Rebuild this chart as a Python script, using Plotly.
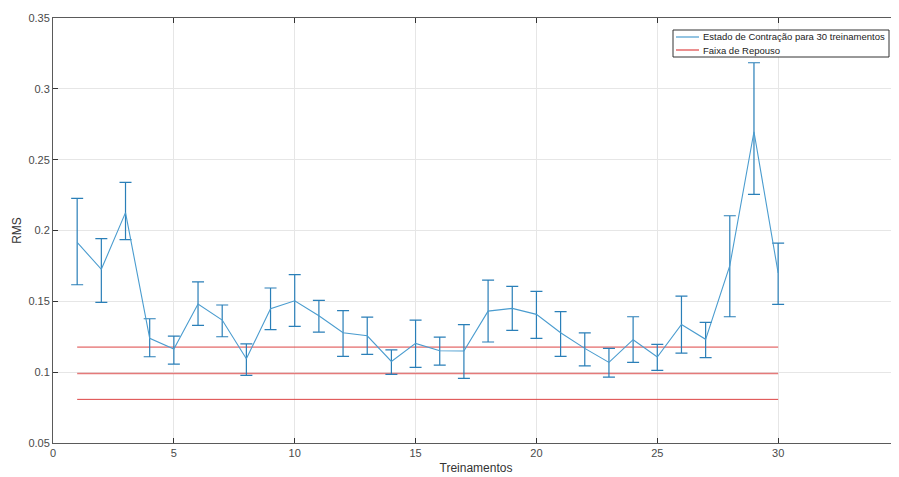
import plotly.graph_objects as go

treinos = list(range(1, 31))
rms_mean = [0.1916, 0.1726, 0.2126, 0.1239, 0.1163, 0.1481, 0.1368, 0.1095, 0.1448, 0.1504,
            0.1398, 0.1278, 0.1257, 0.1076, 0.1203, 0.1151, 0.1149, 0.1431, 0.1450, 0.1408,
            0.1278, 0.1168, 0.1069, 0.1229, 0.1107, 0.1337, 0.1232, 0.1752, 0.2697, 0.1700]
rms_upper = [0.2227, 0.1942, 0.2340, 0.1377, 0.1255, 0.1638, 0.1474, 0.1200, 0.1594, 0.1688,
             0.1507, 0.1434, 0.1389, 0.1158, 0.1368, 0.1248, 0.1335, 0.1650, 0.1606, 0.1570,
             0.1427, 0.1278, 0.1168, 0.1391, 0.1196, 0.1537, 0.1352, 0.2104, 0.3184, 0.1911]
rms_lower = [0.1617, 0.1493, 0.1935, 0.1109, 0.1057, 0.1330, 0.1250, 0.0977, 0.1300, 0.1323,
             0.1283, 0.1112, 0.1126, 0.0985, 0.1034, 0.1050, 0.0956, 0.1213, 0.1295, 0.1239,
             0.1112, 0.1045, 0.0965, 0.1069, 0.1013, 0.1135, 0.1102, 0.1391, 0.2255, 0.1479]
repouso_levels = [0.1177, 0.0991, 0.0808]
repouso_x = [1, 30]
legend_labels = ["Estado de Contração para 30 treinamentos", "Faixa de Repouso"]

BLUE_LINE = "#4a9ccf"
BLUE_ERR = "#2a7fb8"
RED = "#dd4444"

err_plus = [u - m for u, m in zip(rms_upper, rms_mean)]
err_minus = [m - l for m, l in zip(rms_mean, rms_lower)]

fig = go.Figure()

for i, lvl in enumerate(repouso_levels):
    fig.add_trace(go.Scatter(
        x=repouso_x, y=[lvl, lvl], mode="lines",
        line=dict(color=RED if i != 1 else "#e57a7a", width=1 if i != 1 else 1.6),
        name=legend_labels[1], showlegend=False,
    ))

fig.add_trace(go.Scatter(
    x=treinos, y=rms_mean, mode="lines",
    line=dict(color=BLUE_LINE, width=1.1),
    error_y=dict(type="data", symmetric=False, array=err_plus, arrayminus=err_minus,
                 color=BLUE_ERR, thickness=1.2, width=6),
    name=legend_labels[0], showlegend=False,
))

axis_common = dict(
    showgrid=True, gridcolor="#e6e6e6", gridwidth=1,
    showline=True, linecolor="#5a5a5a", linewidth=1, mirror="allticks",
    ticks="inside", ticklen=5, tickcolor="#333333", automargin=False,
    zeroline=False, tickfont=dict(size=11, color="#4a4a4a"),
)

# page body has an 8px margin; plot area on screen: x 53..899, y 18..443
OFF = 8
L, R, T, B = 53, 899, 18, 443
def px(x):
    return (x - L) / (R - L)
def py(y):
    return 1 - (y - T) / (B - T)

shapes = [
    dict(type="rect", xref="paper", yref="paper", x0=px(673), x1=px(889), y0=py(57), y1=py(30),
         line=dict(color="#333333", width=1), fillcolor="white", layer="above"),
    dict(type="line", xref="paper", yref="paper", x0=px(676), x1=px(699), y0=py(37), y1=py(37),
         line=dict(color=BLUE_LINE, width=1.2), layer="above"),
    dict(type="line", xref="paper", yref="paper", x0=px(676), x1=px(699), y0=py(50), y1=py(50),
         line=dict(color=RED, width=1.2), layer="above"),
]
annotations = [
    dict(xref="paper", yref="paper", x=px(701), y=py(37), text=legend_labels[0], showarrow=False,
         xanchor="left", yanchor="middle", font=dict(size=9.5, color="#222222")),
    dict(xref="paper", yref="paper", x=px(701), y=py(50), text=legend_labels[1], showarrow=False,
         xanchor="left", yanchor="middle", font=dict(size=9.5, color="#222222")),
]

W, H = 899, 477
fig.update_layout(
    width=W, height=H,
    margin=dict(l=L - OFF, r=W - (R - OFF), t=T - OFF, b=H - (B - OFF)),
    paper_bgcolor="white", plot_bgcolor="white",
    font=dict(family="Liberation Sans, Arial, sans-serif", size=11, color="#333333"),
    xaxis=dict(range=[0, 35], tickvals=[0, 5, 10, 15, 20, 25, 30, 35],
               title=dict(text="Treinamentos", font=dict(size=12), standoff=5), **axis_common),
    yaxis=dict(range=[0.05, 0.35], tickvals=[0.05, 0.1, 0.15, 0.2, 0.25, 0.3, 0.35],
               ticktext=["0.05", "0.1", "0.15", "0.2", "0.25", "0.3", "0.35"],
               title=dict(text="RMS", font=dict(size=12), standoff=4), **axis_common),
    shapes=shapes,
    annotations=annotations,
    showlegend=False,
)

fig.write_html("out.html")
